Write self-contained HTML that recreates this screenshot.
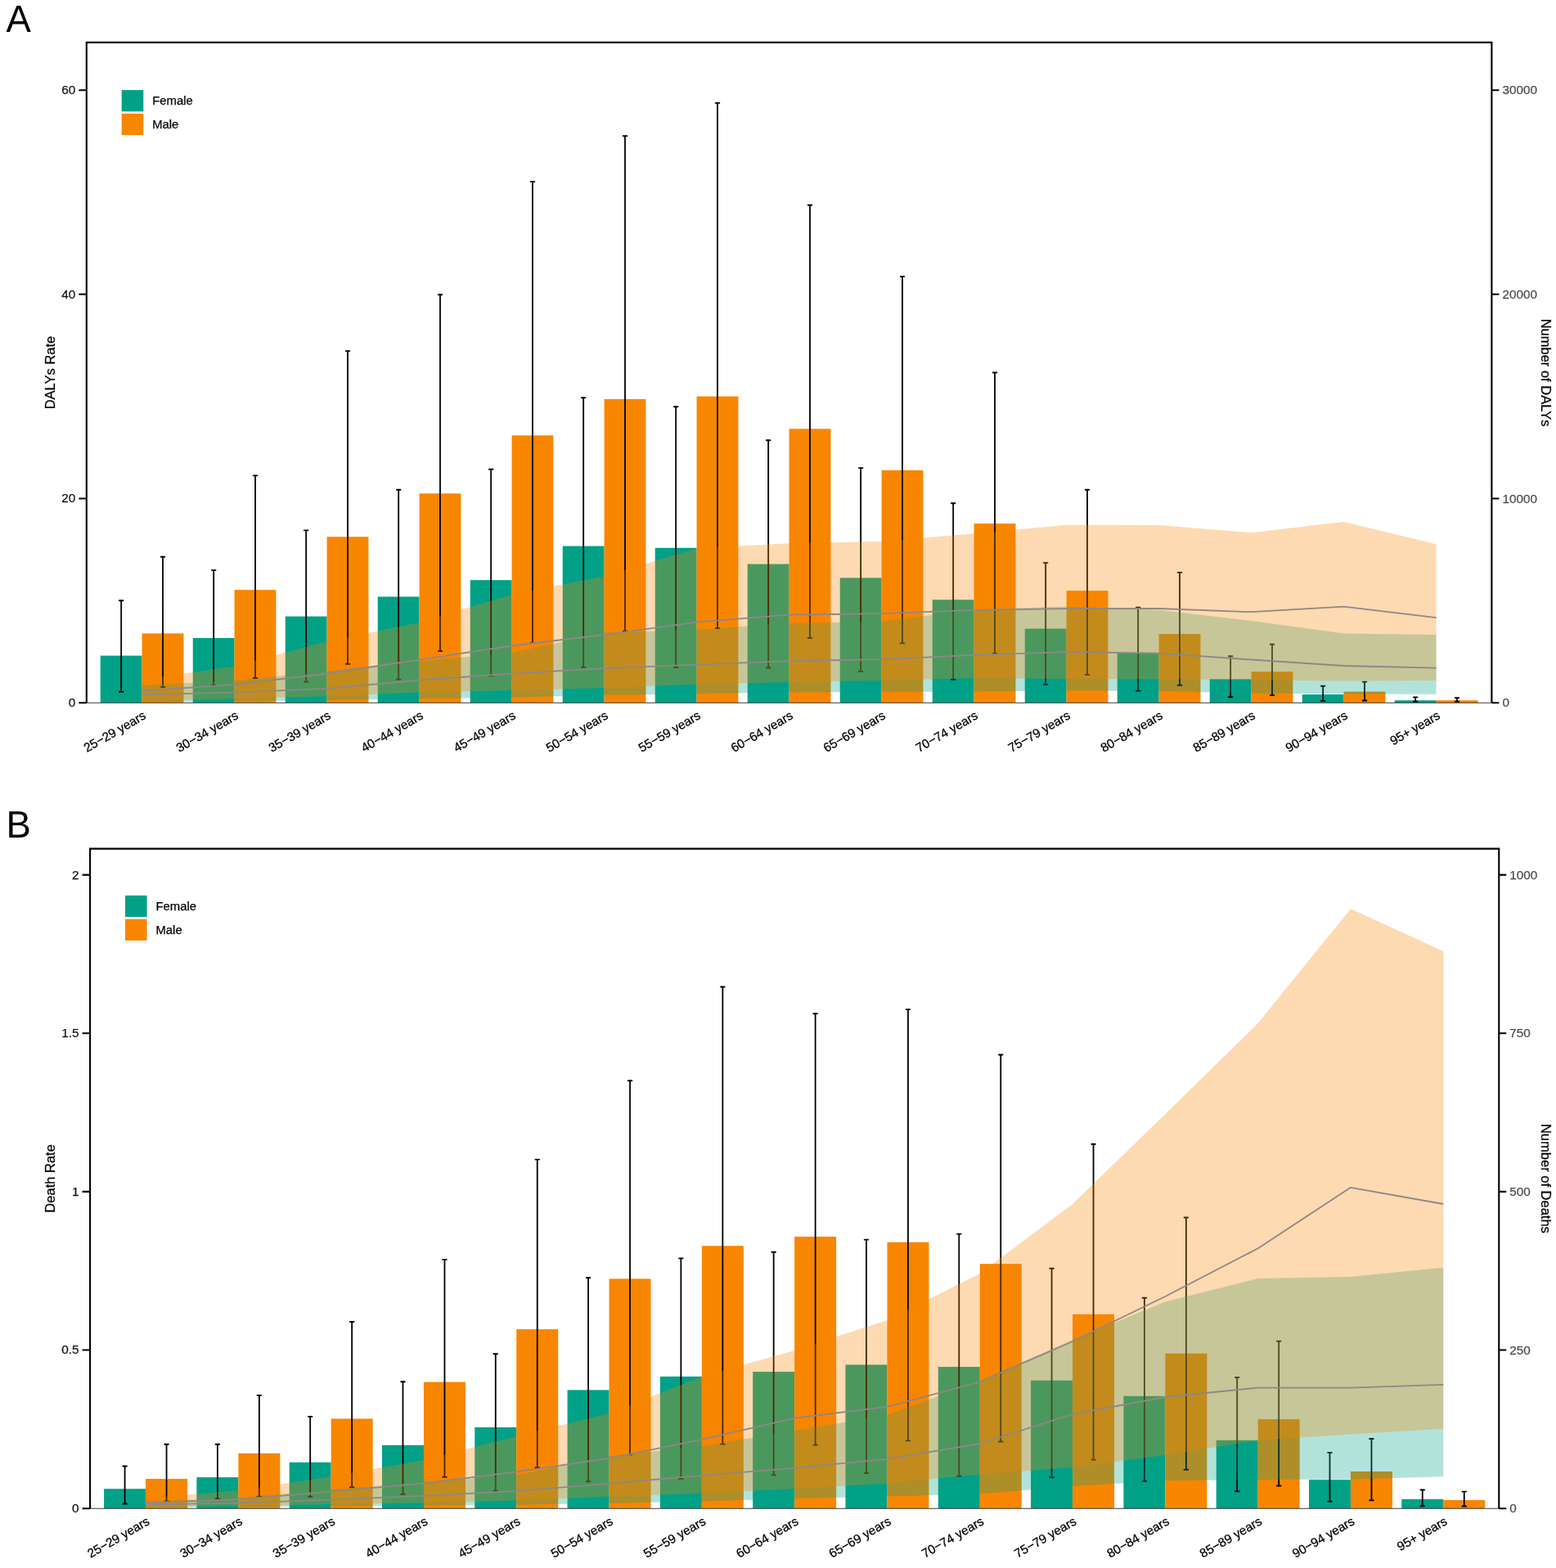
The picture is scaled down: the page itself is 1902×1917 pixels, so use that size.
<!DOCTYPE html>
<html><head><meta charset="utf-8"><title>DALYs and Deaths by age and sex</title>
<style>
html,body{margin:0;padding:0;background:#fff;overflow:hidden;}
svg{display:block;}
text{font-family:'Liberation Sans', Arial, sans-serif;}
.t{stroke-width:0.25px;}
</style></head>
<body>
<svg width="1902" height="1917" viewBox="0 0 1902 1917">
<rect width="1902" height="1917" fill="#fff"/>
<rect x="122.75" y="801.6" width="50.85" height="57.6" fill="#00A187"/>
<rect x="173.6" y="774.4" width="50.85" height="84.8" fill="#F88600"/>
<rect x="235.75" y="780" width="50.85" height="79.2" fill="#00A187"/>
<rect x="286.6" y="721.2" width="50.85" height="138" fill="#F88600"/>
<rect x="348.75" y="753.6" width="50.85" height="105.6" fill="#00A187"/>
<rect x="399.6" y="656.3" width="50.85" height="202.9" fill="#F88600"/>
<rect x="461.75" y="729.5" width="50.85" height="129.7" fill="#00A187"/>
<rect x="512.6" y="603.3" width="50.85" height="255.9" fill="#F88600"/>
<rect x="574.75" y="709.2" width="50.85" height="150" fill="#00A187"/>
<rect x="625.6" y="532.3" width="50.85" height="326.9" fill="#F88600"/>
<rect x="687.75" y="667.6" width="50.85" height="191.6" fill="#00A187"/>
<rect x="738.6" y="488" width="50.85" height="371.2" fill="#F88600"/>
<rect x="800.75" y="669.8" width="50.85" height="189.4" fill="#00A187"/>
<rect x="851.6" y="484.6" width="50.85" height="374.6" fill="#F88600"/>
<rect x="913.75" y="689.6" width="50.85" height="169.6" fill="#00A187"/>
<rect x="964.6" y="524.3" width="50.85" height="334.9" fill="#F88600"/>
<rect x="1026.75" y="706.5" width="50.85" height="152.7" fill="#00A187"/>
<rect x="1077.6" y="575" width="50.85" height="284.2" fill="#F88600"/>
<rect x="1139.75" y="733.2" width="50.85" height="126" fill="#00A187"/>
<rect x="1190.6" y="640.1" width="50.85" height="219.1" fill="#F88600"/>
<rect x="1252.75" y="768.6" width="50.85" height="90.6" fill="#00A187"/>
<rect x="1303.6" y="722.2" width="50.85" height="137" fill="#F88600"/>
<rect x="1365.75" y="798.5" width="50.85" height="60.7" fill="#00A187"/>
<rect x="1416.6" y="775.1" width="50.85" height="84.1" fill="#F88600"/>
<rect x="1478.75" y="830.3" width="50.85" height="28.9" fill="#00A187"/>
<rect x="1529.6" y="821.2" width="50.85" height="38" fill="#F88600"/>
<rect x="1591.75" y="849" width="50.85" height="10.2" fill="#00A187"/>
<rect x="1642.6" y="845.6" width="50.85" height="13.6" fill="#F88600"/>
<rect x="1704.75" y="856.2" width="50.85" height="3" fill="#00A187"/>
<rect x="1755.6" y="856.2" width="50.85" height="3" fill="#F88600"/>
<path d="M148.17 734.2V845.7M199.03 680.7V840M261.18 697.1V837.6M312.03 581.4V829M374.18 648.4V833.6M425.03 429.1V811.8M487.18 598.8V830.6M538.02 360.3V796M600.18 573.7V826.4M651.02 222.1V785.9M713.18 486.2V815.9M764.02 166.2V771.6M826.18 497.3V815.7M877.02 125.9V768.1M939.18 538.2V816.5M990.02 250.7V780M1052.17 572.1V820.9M1103.02 338.1V786.4M1165.17 615.2V830.7M1216.02 455.5V798.9M1278.17 688.1V836.8M1329.02 598.8V824.9M1391.17 742.7V844.6M1442.02 699.9V837.8M1504.17 802.2V852.2M1555.02 787.7V849.9M1617.17 838.8V856.9M1668.02 833.6V856.5M1730.17 852.4V857.8M1781.02 853.1V857.8" stroke="#000" stroke-width="1.8" fill="none"/>
<path d="M145.87 734.2H150.47M145.87 845.7H150.47M196.72 680.7H201.33M196.72 840H201.33M258.88 697.1H263.48M258.88 837.6H263.48M309.73 581.4H314.33M309.73 829H314.33M371.88 648.4H376.48M371.88 833.6H376.48M422.73 429.1H427.33M422.73 811.8H427.33M484.88 598.8H489.48M484.88 830.6H489.48M535.73 360.3H540.32M535.73 796H540.32M597.88 573.7H602.48M597.88 826.4H602.48M648.73 222.1H653.32M648.73 785.9H653.32M710.88 486.2H715.48M710.88 815.9H715.48M761.73 166.2H766.32M761.73 771.6H766.32M823.88 497.3H828.48M823.88 815.7H828.48M874.73 125.9H879.32M874.73 768.1H879.32M936.88 538.2H941.48M936.88 816.5H941.48M987.73 250.7H992.32M987.73 780H992.32M1049.88 572.1H1054.47M1049.88 820.9H1054.47M1100.72 338.1H1105.32M1100.72 786.4H1105.32M1162.88 615.2H1167.47M1162.88 830.7H1167.47M1213.72 455.5H1218.32M1213.72 798.9H1218.32M1275.88 688.1H1280.47M1275.88 836.8H1280.47M1326.72 598.8H1331.32M1326.72 824.9H1331.32M1388.88 742.7H1393.47M1388.88 844.6H1393.47M1439.72 699.9H1444.32M1439.72 837.8H1444.32M1501.88 802.2H1506.47M1501.88 852.2H1506.47M1552.72 787.7H1557.32M1552.72 849.9H1557.32M1614.88 838.8H1619.47M1614.88 856.9H1619.47M1665.72 833.6H1670.32M1665.72 856.5H1670.32M1727.88 852.4H1732.47M1727.88 857.8H1732.47M1778.72 853.1H1783.32M1778.72 857.8H1783.32" stroke="#000" stroke-width="1.9" stroke-linecap="round" fill="none"/>
<polygon points="173.6,837.7 286.6,832.2 399.6,820.5 512.6,808.5 625.6,798 738.6,773.5 851.6,769.7 964.6,762 1077.6,760 1190.6,745 1303.6,741.5 1416.6,745.8 1529.6,759 1642.6,774.4 1755.6,776 1755.6,848.8 1642.6,848.6 1529.6,847.5 1416.6,845 1303.6,844.3 1190.6,845.6 1077.6,846 964.6,846.5 851.6,848.2 738.6,850 625.6,852.5 512.6,854.2 399.6,856 286.6,857.5 173.6,858" fill="#00A187" fill-opacity="0.3"/>
<polygon points="173.6,831 286.6,814.4 399.6,784 512.6,761.1 625.6,726.7 738.6,704.4 851.6,670.6 964.6,664.2 1077.6,662 1190.6,652.3 1303.6,641.8 1416.6,642 1529.6,651.2 1642.6,638.1 1755.6,665.2 1755.6,832 1642.6,832.5 1529.6,831.4 1416.6,830.3 1303.6,830 1190.6,829 1077.6,831.7 964.6,834 851.6,836.5 738.6,841 625.6,844 512.6,846.3 399.6,851.2 286.6,854.3 173.6,857" fill="#F88600" fill-opacity="0.3"/>
<polyline points="173.6,844.5 286.6,837 399.6,823.5 512.6,806.6 625.6,789.5 738.6,776 851.6,760.6 964.6,751.7 1077.6,750.2 1190.6,745.9 1303.6,744.1 1416.6,744 1529.6,748.2 1642.6,741.6 1755.6,755.2" fill="none" stroke="#8e8884" stroke-width="1.8" stroke-linejoin="round"/>
<polyline points="173.6,849.3 286.6,846.6 399.6,841.8 512.6,831.5 625.6,823.6 738.6,817 851.6,812.6 964.6,808.1 1077.6,806.2 1190.6,800.8 1303.6,797 1416.6,798.7 1529.6,806.5 1642.6,814 1755.6,816.7" fill="none" stroke="#8e8884" stroke-width="1.8" stroke-linejoin="round"/>
<path d="M105.8 859.2H1823.4" stroke="#3a3a3a" stroke-width="1.1"/>
<path d="M105.8 859.2V51.9H1823.4V859.2" stroke="#000" stroke-width="2.1" fill="none" stroke-linejoin="miter"/>
<path d="M96.3 859.2H105.8M96.3 609.5H105.8M96.3 359.8H105.8M96.3 110.2H105.8M1823.4 859.2H1832.4M1823.4 609.5H1832.4M1823.4 359.8H1832.4M1823.4 110.2H1832.4" stroke="#000" stroke-width="2.1"/>
<text x="92.3" y="864.11" font-size="15.3" text-anchor="end" fill="#111" stroke="#111" class="t">0</text>
<text x="92.3" y="614.41" font-size="15.3" text-anchor="end" fill="#111" stroke="#111" class="t">20</text>
<text x="92.3" y="364.71" font-size="15.3" text-anchor="end" fill="#111" stroke="#111" class="t">40</text>
<text x="92.3" y="115.11" font-size="15.3" text-anchor="end" fill="#111" stroke="#111" class="t">60</text>
<text x="1836.4" y="864.21" font-size="15.3" fill="#4d4d4d" stroke="#4d4d4d" class="t">0</text>
<text x="1836.4" y="614.51" font-size="15.3" fill="#4d4d4d" stroke="#4d4d4d" class="t">10000</text>
<text x="1836.4" y="364.81" font-size="15.3" fill="#4d4d4d" stroke="#4d4d4d" class="t">20000</text>
<text x="1836.4" y="115.21" font-size="15.3" fill="#4d4d4d" stroke="#4d4d4d" class="t">30000</text>
<text x="179.5" y="877.8" font-size="15.3" text-anchor="end" stroke="#000" class="t" transform="rotate(-30 179.5 877.8)">25−29 years</text>
<text x="292.5" y="877.8" font-size="15.3" text-anchor="end" stroke="#000" class="t" transform="rotate(-30 292.5 877.8)">30−34 years</text>
<text x="405.5" y="877.8" font-size="15.3" text-anchor="end" stroke="#000" class="t" transform="rotate(-30 405.5 877.8)">35−39 years</text>
<text x="518.5" y="877.8" font-size="15.3" text-anchor="end" stroke="#000" class="t" transform="rotate(-30 518.5 877.8)">40−44 years</text>
<text x="631.5" y="877.8" font-size="15.3" text-anchor="end" stroke="#000" class="t" transform="rotate(-30 631.5 877.8)">45−49 years</text>
<text x="744.5" y="877.8" font-size="15.3" text-anchor="end" stroke="#000" class="t" transform="rotate(-30 744.5 877.8)">50−54 years</text>
<text x="857.5" y="877.8" font-size="15.3" text-anchor="end" stroke="#000" class="t" transform="rotate(-30 857.5 877.8)">55−59 years</text>
<text x="970.5" y="877.8" font-size="15.3" text-anchor="end" stroke="#000" class="t" transform="rotate(-30 970.5 877.8)">60−64 years</text>
<text x="1083.5" y="877.8" font-size="15.3" text-anchor="end" stroke="#000" class="t" transform="rotate(-30 1083.5 877.8)">65−69 years</text>
<text x="1196.5" y="877.8" font-size="15.3" text-anchor="end" stroke="#000" class="t" transform="rotate(-30 1196.5 877.8)">70−74 years</text>
<text x="1309.5" y="877.8" font-size="15.3" text-anchor="end" stroke="#000" class="t" transform="rotate(-30 1309.5 877.8)">75−79 years</text>
<text x="1422.5" y="877.8" font-size="15.3" text-anchor="end" stroke="#000" class="t" transform="rotate(-30 1422.5 877.8)">80−84 years</text>
<text x="1535.5" y="877.8" font-size="15.3" text-anchor="end" stroke="#000" class="t" transform="rotate(-30 1535.5 877.8)">85−89 years</text>
<text x="1648.5" y="877.8" font-size="15.3" text-anchor="end" stroke="#000" class="t" transform="rotate(-30 1648.5 877.8)">90−94 years</text>
<text x="1761.5" y="877.8" font-size="15.3" text-anchor="end" stroke="#000" class="t" transform="rotate(-30 1761.5 877.8)">95+ years</text>
<text x="67.3" y="455.55" font-size="16.5" text-anchor="middle" stroke="#000" class="t" transform="rotate(-90 67.3 455.55)">DALYs Rate</text>
<text x="1883.5" y="455.55" font-size="16.5" text-anchor="middle" stroke="#000" class="t" transform="rotate(90 1883.5 455.55)">Number of DALYs</text>
<rect x="148.7" y="110.1" width="26.6" height="26.2" fill="#00A187"/>
<rect x="148.7" y="138.9" width="26.6" height="26.2" fill="#F88600"/>
<text x="186.2" y="128.1" font-size="14.85" stroke="#000" class="t">Female</text>
<text x="186.2" y="157.1" font-size="14.85" stroke="#000" class="t">Male</text>
<text x="7.4" y="38.8" font-size="45.5">A</text>
<rect x="127.09" y="1820.2" width="50.98" height="24" fill="#00A187"/>
<rect x="178.08" y="1808" width="50.98" height="36.2" fill="#F88600"/>
<rect x="240.39" y="1806.1" width="50.98" height="38.1" fill="#00A187"/>
<rect x="291.38" y="1776.8" width="50.98" height="67.4" fill="#F88600"/>
<rect x="353.69" y="1787.8" width="50.98" height="56.4" fill="#00A187"/>
<rect x="404.68" y="1734.5" width="50.98" height="109.7" fill="#F88600"/>
<rect x="467" y="1766.8" width="50.98" height="77.4" fill="#00A187"/>
<rect x="517.98" y="1689.6" width="50.98" height="154.6" fill="#F88600"/>
<rect x="580.29" y="1745" width="50.98" height="99.2" fill="#00A187"/>
<rect x="631.28" y="1625.1" width="50.98" height="219.1" fill="#F88600"/>
<rect x="693.59" y="1699.4" width="50.98" height="144.8" fill="#00A187"/>
<rect x="744.58" y="1563.4" width="50.98" height="280.8" fill="#F88600"/>
<rect x="806.89" y="1682.9" width="50.98" height="161.3" fill="#00A187"/>
<rect x="857.88" y="1523.2" width="50.98" height="321" fill="#F88600"/>
<rect x="920.2" y="1677.1" width="50.98" height="167.1" fill="#00A187"/>
<rect x="971.18" y="1511.9" width="50.98" height="332.3" fill="#F88600"/>
<rect x="1033.5" y="1668.5" width="50.98" height="175.7" fill="#00A187"/>
<rect x="1084.48" y="1518.7" width="50.98" height="325.5" fill="#F88600"/>
<rect x="1146.8" y="1671.1" width="50.98" height="173.1" fill="#00A187"/>
<rect x="1197.78" y="1545.2" width="50.98" height="299" fill="#F88600"/>
<rect x="1260.1" y="1687.7" width="50.98" height="156.5" fill="#00A187"/>
<rect x="1311.08" y="1606.8" width="50.98" height="237.4" fill="#F88600"/>
<rect x="1373.39" y="1706.8" width="50.98" height="137.4" fill="#00A187"/>
<rect x="1424.38" y="1654.7" width="50.98" height="189.5" fill="#F88600"/>
<rect x="1486.69" y="1760.8" width="50.98" height="83.4" fill="#00A187"/>
<rect x="1537.68" y="1735.1" width="50.98" height="109.1" fill="#F88600"/>
<rect x="1599.99" y="1809.1" width="50.98" height="35.1" fill="#00A187"/>
<rect x="1650.98" y="1799" width="50.98" height="45.2" fill="#F88600"/>
<rect x="1713.3" y="1832.8" width="50.98" height="11.4" fill="#00A187"/>
<rect x="1764.28" y="1834" width="50.98" height="10.2" fill="#F88600"/>
<path d="M152.59 1792.5V1838.5M203.57 1765.7V1835.4M265.89 1765.7V1832.4M316.87 1705.9V1829.6M379.19 1731.9V1830M430.17 1616V1818.3M492.49 1689.3V1826.7M543.47 1539.9V1805.8M605.79 1655.2V1822.7M656.77 1417.6V1794.3M719.09 1562.2V1811.3M770.07 1321.2V1778.3M832.39 1538.4V1807.9M883.37 1206.5V1765.6M945.69 1530.8V1803.4M996.67 1239.2V1766.6M1058.99 1515.6V1801M1109.97 1234.1V1761.4M1172.29 1508.6V1804.6M1223.27 1289.5V1762.5M1285.59 1550.8V1806.2M1336.57 1398.8V1784.6M1398.89 1586.8V1810.8M1449.87 1488.5V1796.7M1512.19 1684V1823.2M1563.17 1639.8V1816.5M1625.49 1775.9V1835.6M1676.47 1759V1834.3M1738.79 1821.5V1841.3M1789.77 1823.6V1841.5" stroke="#000" stroke-width="1.8" fill="none"/>
<path d="M150.29 1792.5H154.89M150.29 1838.5H154.89M201.27 1765.7H205.87M201.27 1835.4H205.87M263.59 1765.7H268.19M263.59 1832.4H268.19M314.57 1705.9H319.17M314.57 1829.6H319.17M376.89 1731.9H381.49M376.89 1830H381.49M427.87 1616H432.47M427.87 1818.3H432.47M490.19 1689.3H494.79M490.19 1826.7H494.79M541.17 1539.9H545.77M541.17 1805.8H545.77M603.49 1655.2H608.09M603.49 1822.7H608.09M654.47 1417.6H659.07M654.47 1794.3H659.07M716.79 1562.2H721.39M716.79 1811.3H721.39M767.77 1321.2H772.37M767.77 1778.3H772.37M830.09 1538.4H834.69M830.09 1807.9H834.69M881.07 1206.5H885.67M881.07 1765.6H885.67M943.39 1530.8H947.99M943.39 1803.4H947.99M994.37 1239.2H998.97M994.37 1766.6H998.97M1056.69 1515.6H1061.29M1056.69 1801H1061.29M1107.67 1234.1H1112.27M1107.67 1761.4H1112.27M1169.99 1508.6H1174.59M1169.99 1804.6H1174.59M1220.97 1289.5H1225.57M1220.97 1762.5H1225.57M1283.29 1550.8H1287.89M1283.29 1806.2H1287.89M1334.27 1398.8H1338.87M1334.27 1784.6H1338.87M1396.59 1586.8H1401.19M1396.59 1810.8H1401.19M1447.57 1488.5H1452.17M1447.57 1796.7H1452.17M1509.89 1684H1514.49M1509.89 1823.2H1514.49M1560.87 1639.8H1565.47M1560.87 1816.5H1565.47M1623.19 1775.9H1627.79M1623.19 1835.6H1627.79M1674.17 1759H1678.77M1674.17 1834.3H1678.77M1736.49 1821.5H1741.09M1736.49 1841.3H1741.09M1787.47 1823.6H1792.07M1787.47 1841.5H1792.07" stroke="#000" stroke-width="1.9" stroke-linecap="round" fill="none"/>
<polygon points="178.08,1835.5 291.38,1831.5 404.68,1821 517.98,1812 631.28,1803.4 744.58,1780 857.88,1768 971.18,1749 1084.48,1730 1197.78,1688 1311.08,1638 1424.38,1591.5 1537.68,1563 1650.98,1561 1764.28,1549.8 1764.28,1805.2 1650.98,1808.5 1537.68,1809 1424.38,1810.2 1311.08,1817 1197.78,1826.5 1084.48,1829.5 971.18,1832 857.88,1835.5 744.58,1838 631.28,1839.8 517.98,1840.5 404.68,1841.5 291.38,1842.5 178.08,1843" fill="#00A187" fill-opacity="0.3"/>
<polygon points="178.08,1831.7 291.38,1822.2 404.68,1805.2 517.98,1785 631.28,1756 744.58,1728 857.88,1683 971.18,1651 1084.48,1614 1197.78,1557 1311.08,1472 1424.38,1362 1537.68,1251 1650.98,1111 1764.28,1163 1764.28,1746.7 1650.98,1753.4 1537.68,1761 1424.38,1779 1311.08,1794 1197.78,1802.5 1084.48,1813.5 971.18,1820 857.88,1825.5 744.58,1829.5 631.28,1834.5 517.98,1837.5 404.68,1838.9 291.38,1841.1 178.08,1842" fill="#F88600" fill-opacity="0.3"/>
<polyline points="178.08,1837.4 291.38,1833.2 404.68,1823.7 517.98,1813.5 631.28,1799.4 744.58,1782.9 857.88,1759.8 971.18,1733.8 1084.48,1719.8 1197.78,1689.5 1311.08,1640 1424.38,1585 1537.68,1526.3 1650.98,1451.8 1764.28,1472" fill="none" stroke="#8e8884" stroke-width="1.8" stroke-linejoin="round"/>
<polyline points="178.08,1839.6 291.38,1837.4 404.68,1833.6 517.98,1828.8 631.28,1822.8 744.58,1813.8 857.88,1803.8 971.18,1794.8 1084.48,1783.8 1197.78,1765 1311.08,1729 1424.38,1708 1537.68,1696.6 1650.98,1696.6 1764.28,1692.8" fill="none" stroke="#8e8884" stroke-width="1.8" stroke-linejoin="round"/>
<path d="M110.1 1844.2H1832.26" stroke="#3a3a3a" stroke-width="1.1"/>
<path d="M110.1 1844.2V1037.6H1832.26V1844.2" stroke="#000" stroke-width="2.1" fill="none" stroke-linejoin="miter"/>
<path d="M100.6 1844.2H110.1M100.6 1650.55H110.1M100.6 1456.9H110.1M100.6 1263.25H110.1M100.6 1069.6H110.1M1832.26 1844.2H1841.26M1832.26 1650.55H1841.26M1832.26 1456.9H1841.26M1832.26 1263.25H1841.26M1832.26 1069.6H1841.26" stroke="#000" stroke-width="2.1"/>
<text x="96.6" y="1849.11" font-size="15.3" text-anchor="end" fill="#111" stroke="#111" class="t">0</text>
<text x="96.6" y="1655.46" font-size="15.3" text-anchor="end" fill="#111" stroke="#111" class="t">0.5</text>
<text x="96.6" y="1461.81" font-size="15.3" text-anchor="end" fill="#111" stroke="#111" class="t">1</text>
<text x="96.6" y="1268.16" font-size="15.3" text-anchor="end" fill="#111" stroke="#111" class="t">1.5</text>
<text x="96.6" y="1074.51" font-size="15.3" text-anchor="end" fill="#111" stroke="#111" class="t">2</text>
<text x="1845.26" y="1849.21" font-size="15.3" fill="#4d4d4d" stroke="#4d4d4d" class="t">0</text>
<text x="1845.26" y="1655.56" font-size="15.3" fill="#4d4d4d" stroke="#4d4d4d" class="t">250</text>
<text x="1845.26" y="1461.91" font-size="15.3" fill="#4d4d4d" stroke="#4d4d4d" class="t">500</text>
<text x="1845.26" y="1268.26" font-size="15.3" fill="#4d4d4d" stroke="#4d4d4d" class="t">750</text>
<text x="1845.26" y="1074.61" font-size="15.3" fill="#4d4d4d" stroke="#4d4d4d" class="t">1000</text>
<text x="183.98" y="1862.8" font-size="15.3" text-anchor="end" stroke="#000" class="t" transform="rotate(-30 183.98 1862.8)">25−29 years</text>
<text x="297.28" y="1862.8" font-size="15.3" text-anchor="end" stroke="#000" class="t" transform="rotate(-30 297.28 1862.8)">30−34 years</text>
<text x="410.58" y="1862.8" font-size="15.3" text-anchor="end" stroke="#000" class="t" transform="rotate(-30 410.58 1862.8)">35−39 years</text>
<text x="523.88" y="1862.8" font-size="15.3" text-anchor="end" stroke="#000" class="t" transform="rotate(-30 523.88 1862.8)">40−44 years</text>
<text x="637.18" y="1862.8" font-size="15.3" text-anchor="end" stroke="#000" class="t" transform="rotate(-30 637.18 1862.8)">45−49 years</text>
<text x="750.48" y="1862.8" font-size="15.3" text-anchor="end" stroke="#000" class="t" transform="rotate(-30 750.48 1862.8)">50−54 years</text>
<text x="863.78" y="1862.8" font-size="15.3" text-anchor="end" stroke="#000" class="t" transform="rotate(-30 863.78 1862.8)">55−59 years</text>
<text x="977.08" y="1862.8" font-size="15.3" text-anchor="end" stroke="#000" class="t" transform="rotate(-30 977.08 1862.8)">60−64 years</text>
<text x="1090.38" y="1862.8" font-size="15.3" text-anchor="end" stroke="#000" class="t" transform="rotate(-30 1090.38 1862.8)">65−69 years</text>
<text x="1203.68" y="1862.8" font-size="15.3" text-anchor="end" stroke="#000" class="t" transform="rotate(-30 1203.68 1862.8)">70−74 years</text>
<text x="1316.98" y="1862.8" font-size="15.3" text-anchor="end" stroke="#000" class="t" transform="rotate(-30 1316.98 1862.8)">75−79 years</text>
<text x="1430.28" y="1862.8" font-size="15.3" text-anchor="end" stroke="#000" class="t" transform="rotate(-30 1430.28 1862.8)">80−84 years</text>
<text x="1543.58" y="1862.8" font-size="15.3" text-anchor="end" stroke="#000" class="t" transform="rotate(-30 1543.58 1862.8)">85−89 years</text>
<text x="1656.88" y="1862.8" font-size="15.3" text-anchor="end" stroke="#000" class="t" transform="rotate(-30 1656.88 1862.8)">90−94 years</text>
<text x="1770.18" y="1862.8" font-size="15.3" text-anchor="end" stroke="#000" class="t" transform="rotate(-30 1770.18 1862.8)">95+ years</text>
<text x="67.3" y="1440.9" font-size="16.5" text-anchor="middle" stroke="#000" class="t" transform="rotate(-90 67.3 1440.9)">Death Rate</text>
<text x="1883.5" y="1440.9" font-size="16.5" text-anchor="middle" stroke="#000" class="t" transform="rotate(90 1883.5 1440.9)">Number of Deaths</text>
<rect x="153" y="1094.8" width="26.6" height="26.2" fill="#00A187"/>
<rect x="153" y="1123.6" width="26.6" height="26.2" fill="#F88600"/>
<text x="190.5" y="1112.8" font-size="14.85" stroke="#000" class="t">Female</text>
<text x="190.5" y="1141.8" font-size="14.85" stroke="#000" class="t">Male</text>
<text x="7.4" y="1023.7" font-size="45.5">B</text>
</svg>
</body></html>
